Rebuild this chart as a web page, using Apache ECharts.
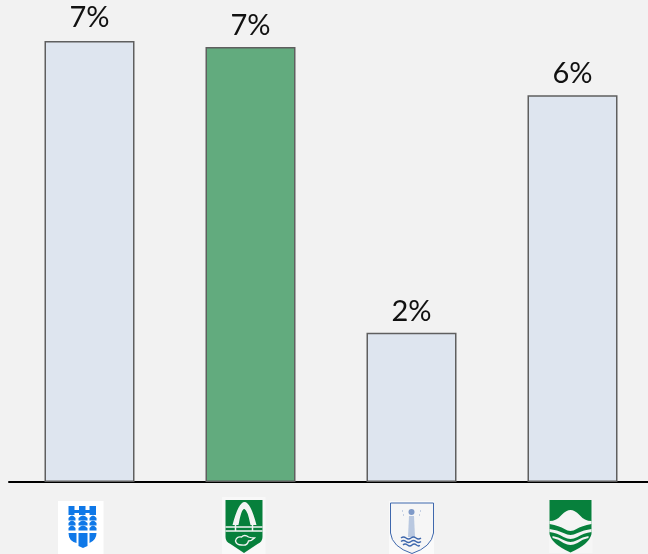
<!DOCTYPE html>
<html><head><meta charset="utf-8">
<style>html,body{margin:0;padding:0;background:#f2f2f2;overflow:hidden}#c{width:648px;height:554px}</style>
<script src="https://cdn.jsdelivr.net/npm/echarts@6/dist/echarts.min.js"></script>
</head><body><div id="c"></div>
<script>
const categories = ['Crest A', 'Crest B', 'Crest C', 'Crest D'];
const values = [7.345, 7.245, 2.485, 6.445];
const highlighted = 'Crest B';

const blue = '#0f78e8', green = '#07803c', navy = '#3f68ad';
function uri(w, h, shiftX, shiftY, body) {
  const W = w + Math.abs(shiftX) * 2, H = 60;
  return {
    W, H,
    image: 'data:image/svg+xml;charset=utf-8,' + encodeURIComponent(
      `<svg xmlns="http://www.w3.org/2000/svg" width="${W}" height="${H}" viewBox="0 0 ${W} ${H}"><g transform="translate(0 ${shiftY})">${body}</g></svg>`)
  };
}
const wavesA = [11, 21, 32].map(x => {
  const w = x === 21 ? 9 : 7, m = w / 2;
  return [17, 22, 27].map(y =>
    `<path d="M${x} ${y}q${m}-5 ${w} 0v2.500h-${w}z" fill="${blue}"/>`).join('');
}).join('');
const logos = [
  uri(46, 53, 9, 4, `<rect width="46" height="53" fill="#fff"/>
    <path d="M11 5h6v4h4.500v-4h6.500v4h4v-4h6.500v9h-6.500v-2h-4v2h-6.500v-2h-4.500v2h-6z" fill="${blue}"/>${wavesA}
    <path d="M11 32h8v10q-8-2-8-10zM21 32h9v13l-4.500 2-4.500-2zM32 32h7q0 7-7 10z" fill="${blue}"/>`),
  uri(44, 57, 7, 0, `<rect width="44" height="57" fill="#f8f8f8"/>
    <path d="M4 3h37v37q0 5-5 7l-13.500 9-13.500-9q-5-2-5-7z" fill="${green}"/>
    <path d="M11 28Q17 5 23 5T35 28h-6Q26 13 23 12T17 28z" fill="#f4f4f4"/>
    <path d="M4 30h37M4 34h37" stroke="#f4f4f4" stroke-width="1.300"/>
    <path d="M14 28v6M31 28v6" stroke="#f4f4f4" stroke-width="1.500"/>
    <path d="M14 44q1-5 6-4 3-3 7 0 3 1 6 1-3 3-6 3-1 5-7 4-5 0-6-4z" fill="none" stroke="#f4f4f4" stroke-width="1.300"/>`),
  uri(45, 53, 0, 4, `<rect width="45" height="53" fill="#fafafa"/>
    <path d="M1.500 2h43v30q-2 14-21.500 20.500Q3 46 1.500 32z" fill="#f6f6f6" stroke="${navy}" stroke-width="1"/>
    <path d="M20 15h5l1 21h-7z" fill="#b9c8e0"/><circle cx="22.500" cy="11" r="3" fill="#7f9ac8"/>
    <path d="M14 10h-1M31 10h1M15 14h-1M30 14h1" stroke="#93a9d0" stroke-width="1.200"/>
    <path d="M12 37q2.500-2 5 0t5 0 5 0 5 0 M12 40.500q2.500-2 5 0t5 0 5 0 5 0 M14 44q2-2 4.500 0t4.500 0 4.500 0 3 0" fill="none" stroke="${navy}" stroke-width="1.400"/>`),
  uri(44, 53, 2, 3, `<rect width="44" height="53" fill="#f6f6f6"/>
    <path d="M1 0h42v34q-2 10-21 18.500Q3 44 1 34z" fill="${green}"/>
    <path d="M1 21q7 0 12-6 5-5 9-5t9 5q5 6 12 6v3q-10 2-15 5-3 2-6 2t-6-2q-5-3-15-5z" fill="#f4f4f4"/>
    <path d="M1 29q8 1 14 4 4 2 7 2t7-2q6-3 14-4v3q-8 1-14 5-4 2-7 2t-7-2q-6-4-14-5z" fill="#f4f4f4"/>
    <path d="M4 36q6 1 11 4 4 2 7 2t7-2q5-3 11-4v2q-6 1-11 5-4 2-7 2t-7-2q-5-4-11-5z" fill="#f4f4f4"/>`)
];
const rich = {};
categories.forEach((c, i) => {
  rich['l' + i] = {
    width: logos[i].W, height: logos[i].H,
    backgroundColor: { image: logos[i].image }
  };
});

const chart = echarts.init(document.getElementById('c'), null, { renderer: 'canvas' });
chart.setOption({
  animation: false,
  backgroundColor: '#f2f2f2',
  grid: { left: 9, width: 644, top: 0, height: 482, outerBoundsMode: 'none' },
  xAxis: {
    type: 'category',
    data: categories,
    axisTick: { show: false },
    axisLine: { lineStyle: { color: '#000', width: 2 } },
    axisLabel: {
      interval: 0,
      margin: 15,
      formatter: (v) => `{l${categories.indexOf(v)}|}`,
      rich
    }
  },
  yAxis: { type: 'value', min: 0, max: 8.03, show: false, splitLine: { show: false } },
  series: [{
    type: 'bar',
    barWidth: 90,
    data: categories.map((c, i) => ({
      value: values[i],
      itemStyle: c === highlighted ? { color: '#62ab7e' } : { color: '#dee5ef' },
      label: i === 0 ? { distance: 9 } : undefined
    })),
    itemStyle: { borderColor: '#5f5f5f', borderWidth: 1.5 },
    label: {
      show: true,
      position: 'top',
      distance: 7,
      color: '#111',
      fontFamily: 'Lato',
      fontSize: 29,
      formatter: (p) => Math.round(p.value) + '%'
    }
  }]
});
</script></body></html>
